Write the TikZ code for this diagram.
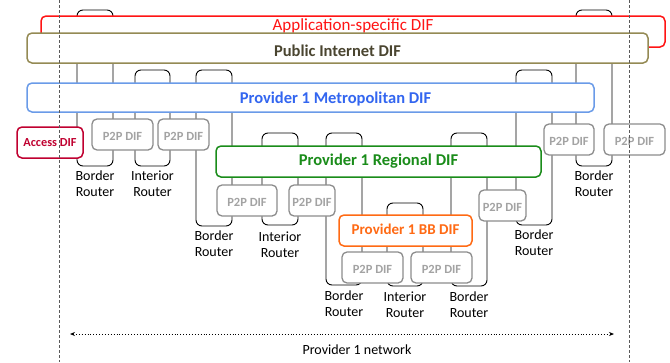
\documentclass[tikz,border=0pt]{standalone}
\usepackage{fontspec}
\setmainfont{Carlito}
\usetikzlibrary{positioning,arrows.meta}
\definecolor{appred}{HTML}{FF1414}
\definecolor{publine}{HTML}{948A54}
\definecolor{pubtext}{HTML}{4A4530}
\definecolor{metroline}{HTML}{6A9BE8}
\definecolor{metrotext}{HTML}{3366F0}
\definecolor{accessred}{HTML}{C00030}
\definecolor{regiongreen}{HTML}{1A8C1A}
\definecolor{bborange}{HTML}{FF6A14}
\definecolor{p2pline}{HTML}{8C8C8C}
\definecolor{p2ptext}{HTML}{A3A3A3}
\begin{document}
\begin{tikzpicture}[x=1pt,y=-1pt,
  router/.style={draw=black, line width=0.9pt, rounded corners=6pt, inner sep=0pt, minimum width=36pt},
  rlabel/.style={align=center, inner sep=1pt, font=\fontsize{14}{16}\selectfont},
  dif/.style={draw, fill=white, line width=1.5pt, rounded corners=5pt, inner sep=0pt,
    minimum height=31pt, text depth=0pt, font=\fontsize{16.5}{18}\selectfont\bfseries},
  p2p/.style={dif, draw=p2pline, text=p2ptext, line width=1.3pt, text height=11pt,
    font=\fontsize{12.5}{14}\selectfont\bfseries}]
  \useasboundingbox (0,0) rectangle (670,362);
  \node[router, minimum height=156pt] (brA) at (95,88) {};
  \node[router, minimum height=96pt, minimum width=35pt] (irA) at (152.5,118) {};
  \node[router, minimum height=156pt] (brB) at (214,148) {};
  \node[router, minimum height=92pt] (irB) at (280,179) {};
  \node[router, minimum height=152pt] (brC) at (344,209) {};
  \node[router, minimum height=83pt] (irC) at (405,244.5) {};
  \node[router, minimum height=153pt] (brD) at (469,209.5) {};
  \node[router, minimum height=155pt] (brE) at (534,147.5) {};
  \node[router, minimum height=156pt] (brF) at (594,88) {};
  \node[rlabel, below=3pt of brA] (brAtxt) {Border\\Router};
  \node[rlabel, below=3pt of irA] (irAtxt) {Interior\\Router};
  \node[rlabel, below=3pt of brB] (brBtxt) {Border\\Router};
  \node[rlabel, below=5pt of irB] (irBtxt) {Interior\\Router};
  \node[rlabel, below=4pt of brC] (brCtxt) {Border\\Router};
  \node[rlabel, below=4pt of irC] (irCtxt) {Interior\\Router};
  \node[rlabel, below=4pt of brD] (brDtxt) {Border\\Router};
  \node[rlabel, below=3pt of brE] (brEtxt) {Border\\Router};
  \node[rlabel, below=3pt of brF] (brFtxt) {Border\\Router};
  \node[dif, draw=appred, text=appred, minimum width=624pt, text height=6pt, text depth=8pt,
    font=\fontsize{17}{19}\selectfont] (app) at (353,31.5) {Application-specific DIF};
  \node[dif, draw=publine, text=pubtext, minimum width=621pt, minimum height=30pt, text height=17pt]
    (pub) at (337.5,48) {Public Internet DIF};
  \node[dif, draw=metroline, text=metrotext, minimum width=567pt, minimum height=29pt, text height=12.4pt]
    (metro) at (310.5,97.5) {\hspace*{50pt}Provider 1 Metropolitan DIF};
  \node[dif, draw=accessred, text=accessred, minimum width=66pt, text height=7pt,
    font=\fontsize{12.3}{14}\selectfont\bfseries] (access) at (50,142.5) {Access DIF};
  \node[p2p, minimum width=61pt] (p2pA) at (122.5,134.5) {P2P DIF};
  \node[p2p, minimum width=51pt] (p2pB) at (183.5,134.5) {P2P DIF};
  \node[p2p, minimum width=50pt] (p2pH) at (569,139.5) {P2P DIF};
  \node[p2p, minimum width=61pt] (p2pI) at (634.5,139.5) {P2P DIF};
  \node[dif, draw=regiongreen, text=regiongreen, minimum width=325pt, text height=8.4pt]
    (region) at (378.5,161.5) {Provider 1 Regional DIF};
  \node[p2p, minimum width=60pt] (p2pC) at (247,200.5) {P2P DIF};
  \node[p2p, minimum width=46pt] (p2pD) at (312,200.5) {P2P DIF};
  \node[p2p, minimum width=47pt] (p2pE) at (502.5,205.5) {P2P DIF};
  \node[dif, draw=bborange, text=bborange, minimum width=133pt, text height=7.5pt,
    font=\fontsize{15}{17}\selectfont\bfseries] (bb) at (405.5,230.5) {Provider 1 BB DIF};
  \node[p2p, minimum width=61pt] (p2pF) at (372.5,267.5) {P2P DIF};
  \node[p2p, minimum width=61pt] (p2pG) at (441.5,267.5) {P2P DIF};
  \draw[dashed, dash pattern=on 3pt off 2pt, line width=0.8pt, black!65] (59,0) -- (59,362);
  \draw[dashed, dash pattern=on 3pt off 2pt, line width=0.8pt, black!65] (629,0) -- (629,362);
  \coordinate (netL) at (70,334);
  \coordinate (netR) at (614,334);
  \draw[dotted, line width=0.9pt, {Stealth[length=5pt,width=4pt]}-{Stealth[length=5pt,width=4pt]}] (netL) -- (netR);
  \node[rlabel] (nettxt) at (357,350) {Provider 1 network};
\end{tikzpicture}
\end{document}
